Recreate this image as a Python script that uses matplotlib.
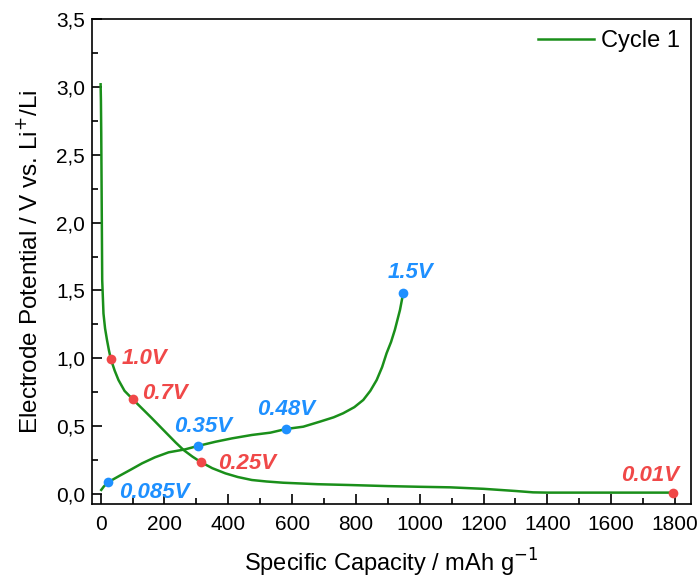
import matplotlib
matplotlib.use("Agg")
import matplotlib.pyplot as plt
from matplotlib.ticker import MultipleLocator, FuncFormatter

plt.rcParams['font.family'] = ['Liberation Sans', 'DejaVu Sans']

# Discharge branch (capacity mAh/g, potential V)
dis_cap = [0, 1, 2, 3, 5, 9, 14, 20, 26, 32, 44, 56, 75, 100, 130, 160, 207, 235, 260, 288, 315,
           350, 391, 430, 474, 520, 572, 680, 781, 900, 1000, 1095, 1200, 1300, 1355, 1400,
           1500, 1600, 1700, 1792]
dis_v = [3.02, 2.9, 2.66, 2.3, 1.577, 1.33, 1.22, 1.135, 1.06, 0.995, 0.91, 0.84, 0.76, 0.70,
         0.63, 0.56, 0.447, 0.38, 0.324, 0.275, 0.234, 0.19, 0.152, 0.125, 0.103, 0.092, 0.083,
         0.072, 0.066, 0.058, 0.053, 0.049, 0.038, 0.022, 0.012, 0.01, 0.01, 0.01, 0.01, 0.01]

# Charge branch
chg_cap = [2, 10, 23, 60, 95, 130, 170, 213, 265, 305, 360, 412, 474, 532, 581, 635, 687, 730,
           760, 795, 823, 845, 865, 882, 896, 910, 922, 938, 948]
chg_v = [0.03, 0.055, 0.086, 0.135, 0.18, 0.226, 0.27, 0.307, 0.329, 0.354, 0.385, 0.41, 0.435,
         0.452, 0.479, 0.496, 0.533, 0.565, 0.595, 0.64, 0.693, 0.76, 0.84, 0.935, 1.037, 1.12,
         1.21, 1.356, 1.479]

# Marked points
red_cap = [32, 100, 315, 1792]
red_v = [0.995, 0.70, 0.234, 0.01]
red_labels = ["1.0V", "0.7V", "0.25V", "0.01V"]

blue_cap = [23, 305, 581, 948]
blue_v = [0.086, 0.354, 0.479, 1.479]
blue_labels = ["0.085V", "0.35V", "0.48V", "1.5V"]

green = '#1a8f1a'
red = '#f04848'
blue = '#1e90ff'

fig = plt.figure(figsize=(6.99, 5.81), dpi=100)
ax = fig.add_axes([0.1316, 0.1325, 0.857, 0.8345])

ax.plot(dis_cap, dis_v, color=green, lw=1.8, label='Cycle 1', zorder=2)
ax.plot(chg_cap, chg_v, color=green, lw=1.8, zorder=2)
ax.plot(red_cap, red_v, 'o', color=red, ms=7, mec='none', zorder=3)
ax.plot(blue_cap, blue_v, 'o', color=blue, ms=7, mec='none', zorder=3)

# label offsets in points
red_off = [(8, 0), (7, 4), (12, -1), (-37, 12)]
blue_off = [(8, -7), (-17, 14), (-21, 14), (-11, 15)]
for x, y, t, o in zip(red_cap, red_v, red_labels, red_off):
    ax.annotate(t, (x, y), xytext=o, textcoords='offset points', color=red, fontsize=16,
                fontweight='bold', fontstyle='italic', va='center', ha='left')
for x, y, t, o in zip(blue_cap, blue_v, blue_labels, blue_off):
    ax.annotate(t, (x, y), xytext=o, textcoords='offset points', color=blue, fontsize=16,
                fontweight='bold', fontstyle='italic', va='center', ha='left')

ax.set_xlim(-27, 1850)
ax.set_ylim(-0.074, 3.5)
ax.xaxis.set_major_locator(MultipleLocator(200))
ax.xaxis.set_minor_locator(MultipleLocator(100))
ax.yaxis.set_major_locator(MultipleLocator(0.5))
ax.yaxis.set_minor_locator(MultipleLocator(0.25))
ax.yaxis.set_major_formatter(FuncFormatter(lambda v, p: f"{v:.1f}".replace('.', ',')))
ax.tick_params(which='both', direction='in', top=False, right=False, labelsize=15, width=1.2)
ax.tick_params(which='major', length=7)
ax.tick_params(which='minor', length=4)
ax.tick_params(axis='x', pad=8)
ax.tick_params(axis='y', pad=5)
for s in ax.spines.values():
    s.set_linewidth(1.2)

ax.set_xlabel('Specific Capacity / mAh g$^{-1}$', fontsize=17, labelpad=9)
ax.set_ylabel('Electrode Potential / V vs. Li$^{+}$/Li', fontsize=17.5, labelpad=10)

ax.legend(loc='upper right', frameon=False, fontsize=17, handlelength=2.4, handletextpad=0.3,
          borderaxespad=0.05)

fig.savefig('out.png', dpi=100)
